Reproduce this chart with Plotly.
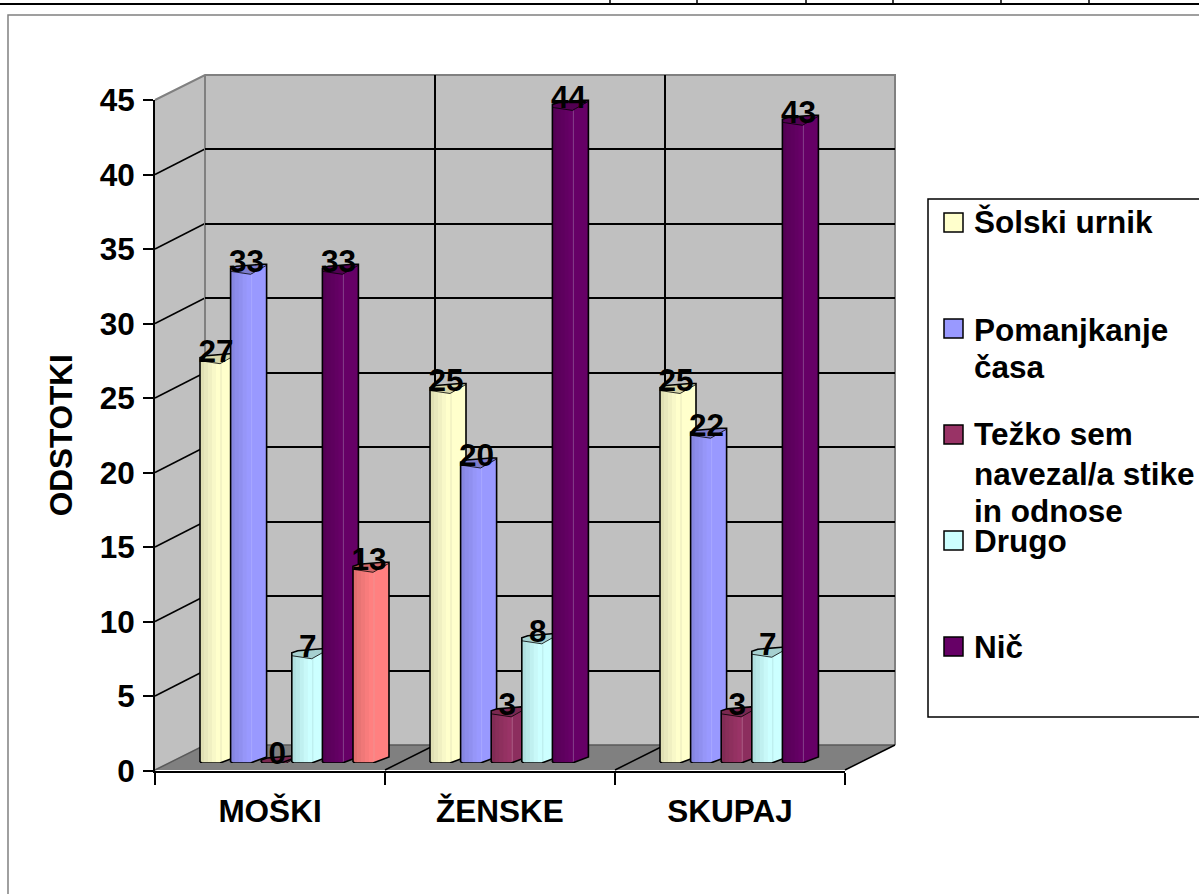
import plotly.graph_objects as go

W, H = 1199, 894
FONT = "Liberation Sans"

categories = ["MOŠKI", "ŽENSKE", "SKUPAJ"]
series_names = ["Šolski urnik", "Pomanjkanje časa", "Težko sem navezal/a stike in odnose", "Drugo", "Nič", "Neoznačeno"]
solski_urnik = [27, 25, 25]
pomanjkanje_casa = [33, 20, 22]
tezko_stike = [0, 3.3, 3.3]
drugo = [7.2, 8.2, 7.3]
nic = [33, 44, 43]
neoznaceno = [13, None, None]
value_ticks = [0, 5, 10, 15, 20, 25, 30, 35, 40, 45]
series_values = [solski_urnik, pomanjkanje_casa, tezko_stike, drugo, nic, neoznaceno]

# colours: strips of the front face (dark to light), side face, cap, ridge
palette = [
    (["#E0E0B4", "#E8E8BC", "#F0F0C2", "#F8F8C8", "#FFFFCC"], "#FFFFCC", "#D6D6AA", "#E8E8BC"),
    (["#8686E0", "#8C8CEA", "#9090F0", "#9696F8", "#9999FF"], "#9999FF", "#7C7CCC", "#A8A8FF"),
    (["#802B55", "#882E5A", "#8E305E", "#943262", "#993366"], "#8C2E5E", "#7A2850", "#B06088"),
    (["#B0E0E0", "#B8E8E8", "#C0F0F0", "#C8F8F8", "#CCFFFF"], "#CCFFFF", "#A6D0D0", "#B8E8E8"),
    (["#550055", "#5A005A", "#5E005E", "#620062", "#660066"], "#660066", "#520052", "#84408A"),
    (["#E06E6E", "#E87474", "#F07878", "#F87C7C", "#FF8080"], "#FF8080", "#D06868", "#F09090"),
]

# page geometry, in pixels of the reference
CAT_PX = 230.0
UNIT_PX = 14.9
SLOT_PX = 30.6
FIRST_LEFT = -0.4  # first column's left edge from the category centre


def xdom(a, b):
    return [a / W, b / W]


def ydom(top, bottom):
    return [1 - bottom / H, 1 - top / H]


def xu(px):
    return px / CAT_PX


def yu(px):
    return px / UNIT_PX


fig = go.Figure()
layout_axes = {}


def add_axes(n, xd, yd, xrange, yrange, **extra):
    sx = "" if n == 1 else str(n)
    layout_axes[f"xaxis{sx}"] = dict(domain=xd, range=xrange, anchor=f"y{sx}", visible=False, fixedrange=True, automargin=False)
    layout_axes[f"yaxis{sx}"] = dict(domain=yd, range=yrange, anchor=f"x{sx}", visible=False, fixedrange=True, automargin=False)
    layout_axes[f"xaxis{sx}"].update(extra.get("x", {}))
    layout_axes[f"yaxis{sx}"].update(extra.get("y", {}))


GRID = dict(showgrid=True, gridcolor="#000000", gridwidth=1.5, showline=False, zeroline=False,
            showticklabels=False, ticks="", visible=True)

# back wall
add_axes(1, xdom(205, 895), ydom(75, 745), [-0.5, 2.5], [0, 45],
         x=dict(GRID, tickmode="array", tickvals=[0.5, 1.5]),
         y=dict(GRID, tickmode="array", tickvals=value_ticks[1:-1]))
fig.add_trace(go.Scatter(x=[None], y=[None], xaxis="x", yaxis="y", showlegend=False))

# front axes
BOLD = dict(family=FONT, size=31.5, color="#000000", weight=700)
add_axes(2, xdom(155, 845), ydom(100, 770.5), [-0.5, 2.5], [0, 45],
         x=dict(visible=True, type="category", categoryorder="array", categoryarray=categories,
                tickson="boundaries", ticks="outside", ticklen=12, tickwidth=1.5, tickcolor="#000000",
                showline=True, linecolor="#000000", linewidth=2, showgrid=False, zeroline=False,
                tickfont=BOLD, ticklabelstandoff=12),
         y=dict(visible=True, tickmode="array", tickvals=value_ticks, ticks="outside", ticklen=10,
                tickwidth=1.5, tickcolor="#000000", showline=True, linecolor="#000000", linewidth=2,
                showgrid=False, zeroline=False, tickfont=BOLD, ticklabelstandoff=2,
                title=dict(text="ODSTOTKI", font=BOLD, standoff=18)))
fig.add_trace(go.Bar(x=categories, y=[None] * 3, xaxis="x2", yaxis="y2", showlegend=False))

# columns: one subplot per series, so later series cover earlier ones
BAR_DOM = (xdom(177, 867), ydom(92.5, 763))
strip_edges = [0, 4, 8, 12, 16, 20]
label_x, label_y, label_text = [], [], []

for s, (name, vals, pal) in enumerate(zip(series_names, series_values, palette)):
    n = s + 3
    add_axes(n, BAR_DOM[0], BAR_DOM[1], [-0.5, 2.5], [0, 45])
    xa, ya = f"x{n}", f"y{n}"
    left = FIRST_LEFT + s * xu(SLOT_PX)
    idx = [i for i, v in enumerate(vals) if v is not None]
    present = [vals[i] for i in idx]
    for k, colour in enumerate(pal[0]):
        # each strip runs to the face's right edge and is painted over by the next, so no seams show
        fig.add_trace(go.Bar(x=idx, y=present, base=0, xaxis=xa, yaxis=ya, name=name, showlegend=False,
                             offset=left + xu(strip_edges[k]), width=xu(strip_edges[-1] + 2 - strip_edges[k]),
                             marker=dict(color=colour, line=dict(width=0)), hoverinfo="skip"))
    sx, sy, cx, cy, ox, oy, fx, fy, rx, ry = [], [], [], [], [], [], [], [], [], []
    for i, v in zip(idx, present):
        x0 = i + left
        X = lambda p: x0 + xu(p)
        Y = lambda p: v + yu(p)
        B = lambda p: yu(p)
        sx += [X(20), X(36), X(36), X(20), X(20), None]
        sy += [B(0), B(6), Y(7), Y(-3), B(0), None]
        cx += [X(0), X(20), X(36), X(36), X(30), X(6), X(0), X(0), None]
        cy += [Y(0), Y(-3), Y(6), Y(7), Y(7), Y(5), Y(3), Y(0), None]
        ox += [X(0), X(2), X(20), X(36), X(36), X(30), X(6), X(0), X(0), None]
        oy += [B(1), B(0), B(0), B(6), Y(7), Y(7), Y(5), Y(3), B(1), None]
        fx += [X(0), X(20), X(36), None]
        fy += [Y(0), Y(-3), Y(6), None]
        rx += [X(21), X(21), None]
        ry += [B(0), Y(-3), None]
        label_x.append(i + left + xu(16))
        label_y.append(Y(7))
        label_text.append(str(round(v)))
    common = dict(xaxis=xa, yaxis=ya, mode="lines", showlegend=False, hoverinfo="skip", cliponaxis=False)
    fig.add_trace(go.Scatter(x=sx, y=sy, fill="toself", fillcolor=pal[1], line=dict(width=0, color=pal[1]), **common))
    fig.add_trace(go.Scatter(x=rx, y=ry, line=dict(width=1, color=pal[3]), **common))
    fig.add_trace(go.Scatter(x=cx, y=cy, fill="toself", fillcolor=pal[2], line=dict(width=0, color=pal[2]), **common))
    fig.add_trace(go.Scatter(x=fx, y=fy, line=dict(width=0.8, color="#000000"), **common))
    fig.add_trace(go.Scatter(x=ox, y=oy, line=dict(width=1.6, color="#000000"), **common))

# data labels on top of everything
add_axes(9, BAR_DOM[0], BAR_DOM[1], [-0.5, 2.5], [0, 45])
fig.add_trace(go.Scatter(x=label_x, y=label_y, text=label_text, mode="text", textposition="middle center",
                         textfont=BOLD, xaxis="x9", yaxis="y9", showlegend=False, hoverinfo="skip", cliponaxis=False))

# page furniture in pixels
shapes = []


def P(x, y):
    return f"{x / W:.5f} {1 - y / H:.5f}"


def poly(points, fill=None, line=None, width=1.5):
    path = "M " + " L ".join(P(x, y) for x, y in points) + (" Z" if fill else "")
    shapes.append(dict(type="path", xref="paper", yref="paper", path=path, layer="below",
                       fillcolor=fill if fill else "rgba(0,0,0,0)",
                       line=dict(color=line if line else "rgba(0,0,0,0)", width=width if line else 0)))


poly([(0, 4), (W, 4)], line="#000000", width=2)
for tx in [610, 697, 806, 893, 1001, 1089]:
    poly([(tx, 0), (tx, 4)], line="#000000", width=1.5)
poly([(8, H), (8, 15), (W, 15)], line="#808080", width=1.5)

poly([(205, 75), (895, 75), (895, 745), (205, 745)], fill="#C0C0C0")
poly([(155, 100), (205, 75), (205, 745), (155, 770)], fill="#C0C0C0")
poly([(155, 770), (205, 745), (895, 745), (845, 770)], fill="#808080")
for t in value_ticks[1:-1]:
    poly([(155, 770.5 - t * UNIT_PX), (205, 745 - t * UNIT_PX)], line="#000000", width=1.5)
poly([(155, 100), (205, 75), (895, 75), (895, 745)], line="#808080", width=2)
poly([(205, 75), (205, 745)], line="#808080", width=2)
poly([(155, 770), (205, 745), (895, 745)], line="#5A5A5A", width=1.5)
for bx in [385, 615, 845]:
    poly([(bx, 770), (bx + 50, 745)], line="#000000", width=1.5)

# legend
poly([(W + 5, 199), (928, 199), (928, 717), (W + 5, 717)], fill="#FFFFFF", line="#000000", width=1.5)
legend_swatches = [(213, palette[0][1]), (319, palette[1][1]), (425, "#993366"), (531, palette[3][1]), (637, palette[4][1])]
for top, colour in legend_swatches:
    poly([(944, top), (963, top), (963, top + 19), (944, top + 19)], fill=colour, line="#000000", width=1.5)

legend_lines = [("Šolski urnik", 222), ("Pomanjkanje", 330), ("časa", 367), ("Težko sem", 434),
                ("navezal/a stike", 474), ("in odnose", 511), ("Drugo", 541), ("Nič", 647)]
annotations = [dict(text=t, x=972 / W, y=1 - y / H, xref="paper", yref="paper", xanchor="left", yanchor="middle",
                    showarrow=False, font=BOLD) for t, y in legend_lines]

fig.update_layout(width=W, height=H, margin=dict(l=0, r=0, t=0, b=0), paper_bgcolor="#FFFFFF",
                  plot_bgcolor="rgba(0,0,0,0)", barmode="overlay", showlegend=False,
                  shapes=shapes, annotations=annotations, font=dict(family=FONT), **layout_axes)
fig.write_html("out.html", config={"displayModeBar": False},
               post_script="document.body.style.margin='0';document.body.style.overflow='hidden';")
